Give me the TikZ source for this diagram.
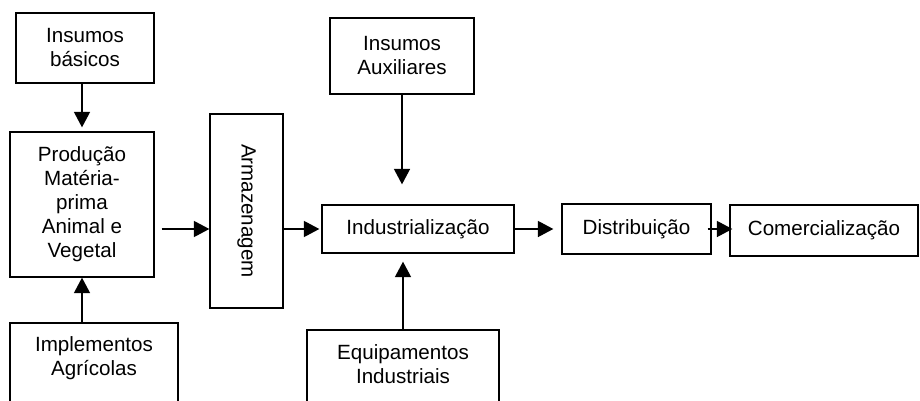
\documentclass[tikz,border=0pt]{standalone}
\usepackage{fontspec}
\setmainfont{Liberation Sans}
\usetikzlibrary{arrows.meta,calc}
\begin{document}
\begin{tikzpicture}[x=1pt,y=-1pt,
  lbl/.style={inner sep=0pt, align=center, font=\fontsize{20.6}{24}\selectfont},
  box/.style={draw, line width=1.3pt, lbl},
  arr/.style={line width=1.7pt, -{Triangle[length=15.5pt,width=16pt]}}]
\useasboundingbox (0,0) rectangle (920,401);
\clip (0,0) rectangle (920,401);
% boxes
\node[box, minimum width=138pt, minimum height=70pt] (bas) at (85,48) {Insumos\\básicos};
\node[box, minimum width=144pt, minimum height=145pt] (prod) at (82,204.5) {Produção\\Matéria-\\prima\\Animal e\\Vegetal};
\node[box, minimum width=168pt, minimum height=97pt] (impl) at (94,371.5) {};
\node[lbl] (impltxt) at (94,358) {Implementos\\Agrícolas};
\node[box, minimum width=73pt, minimum height=194pt] (arm) at (246.5,211) {};
\node[lbl, rotate=-90] (armtxt) at (arm.center) {Armazenagem};
\node[box, minimum width=144pt, minimum height=76pt] (aux) at (402,56) {Insumos\\Auxiliares};
\node[box, minimum width=192pt, minimum height=48pt] (ind) at (418,229) {Industrialização};
\node[box, minimum width=192pt, minimum height=90pt] (equip) at (403,375) {};
\node[lbl] (equiptxt) at (403,364) {Equipamentos\\Industriais};
\node[box, minimum width=149pt, minimum height=50pt] (dist) at (636.5,229) {Distribuição};
\node[box, minimum width=188pt, minimum height=51pt] (com) at (824,230.5) {Comercialização};
% connectors
\draw[arr, shorten >=4pt] (prod.north |- bas.south) -- (prod.north);
\draw[arr] (prod.south |- impl.north) -- (prod.south);
\draw[arr, shorten <=7pt] (prod.east |- ind.west) -- (arm.west |- ind.west);
\draw[arr, shorten >=2pt] (arm.east |- ind.west) -- (ind.west);
\draw[arr, shorten >=20pt] (aux.south) -- (aux.south |- ind.north);
\draw[arr, shorten >=8pt] (equip.north) -- (equip.north |- ind.south);
\draw[arr, shorten >=8pt] (ind.east) -- (dist.west);
\draw[arr, shorten <=-4pt, shorten >=-3pt] (dist.east) -- (com.west |- dist.east);
\end{tikzpicture}
\end{document}
